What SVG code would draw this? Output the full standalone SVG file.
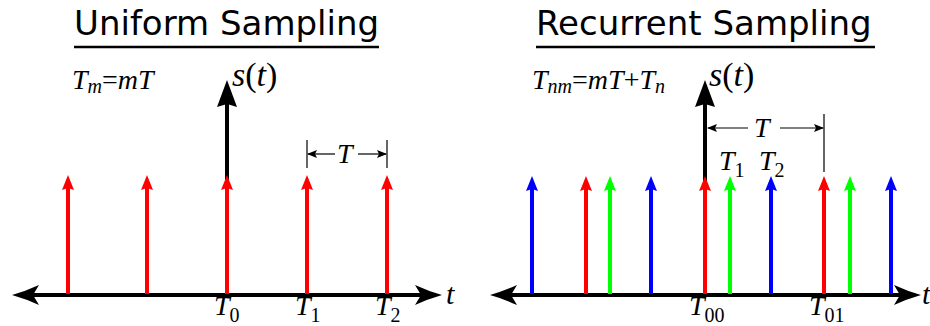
<svg xmlns="http://www.w3.org/2000/svg" width="930" height="326" viewBox="0 0 930 326">
<style>
.title{font-family:"DejaVu Sans",sans-serif;font-size:34px;fill:#000}
.math{font-family:"Liberation Serif","Times New Roman","DejaVu Serif",serif;font-style:italic;fill:#000}
.up{font-style:normal}
.ax{stroke:#000;stroke-width:4;fill:none}
.imp{stroke-width:4;fill:none}
.r{stroke:#ff0000}.g{stroke:#00ff00}.b{stroke:#0000ff}
.rf{fill:#ff0000}.gf{fill:#00ff00}.bf{fill:#0000ff}
.dim{stroke:#000;stroke-width:1.2;fill:none}
.ul{stroke:#000;stroke-width:2.5}
</style>
<defs>
<path id="ih" d="M0,0 L6,15 L0,13 L-6,15 Z"/>
<path id="sh" d="M0,0 L10,27 L0,24 L-10,27 Z"/>
<path id="axl" d="M0,0 Q14,-4 27,-10 L21,0 L27,10 Q14,4 0,0 Z"/>
<marker id="da" viewBox="0 0 10 8" refX="9" refY="4" markerWidth="10" markerHeight="8" markerUnits="userSpaceOnUse" orient="auto"><path d="M0,0 L10,4 L0,8 L2,4 Z" fill="#000"/></marker>
</defs>

<g id="left-title">
<text class="title" x="74" y="35">Uniform Sampling</text>
<line class="ul" x1="74" y1="47" x2="379" y2="47"/>
</g>
<g id="right-title">
<text class="title" x="536" y="35">Recurrent Sampling</text>
<line class="ul" x1="536" y1="47" x2="875" y2="47"/>
</g>

<g id="left-formula"><text class="math" x="72" y="89" font-size="28">T<tspan font-size="20" dy="4">m</tspan><tspan class="up" dy="-4">=</tspan>mT</text></g>
<g id="right-formula"><text class="math" x="532" y="89" font-size="28">T<tspan font-size="20" dy="4">nm</tspan><tspan class="up" dy="-4">=</tspan>mT<tspan class="up">+</tspan>T<tspan font-size="20" dy="4">n</tspan></text></g>

<g id="connectors">
<line class="ax" x1="30" y1="295" x2="425" y2="295"/>
<use href="#axl" transform="translate(12,295)"/>
<use href="#axl" transform="translate(442,295) scale(-1,1)"/>
<line class="ax" x1="227" y1="100" x2="227" y2="190" stroke-width="4.5"/>
<use href="#sh" transform="translate(227,80)"/>
<line class="ax" x1="508" y1="295" x2="905" y2="295"/>
<use href="#axl" transform="translate(490,295)"/>
<use href="#axl" transform="translate(921,295) scale(-1,1)"/>
<line class="ax" x1="705" y1="100" x2="705" y2="190" stroke-width="4.5"/>
<use href="#sh" transform="translate(705,80)"/>

<line class="dim" x1="307" y1="140" x2="307" y2="168"/>
<line class="dim" x1="387" y1="140" x2="387" y2="168"/>
<line class="dim" x1="335" y1="154" x2="308" y2="154" marker-end="url(#da)"/>
<line class="dim" x1="358" y1="154" x2="386" y2="154" marker-end="url(#da)"/>
<line class="dim" x1="824" y1="114" x2="824" y2="172"/>
<line class="dim" x1="748" y1="128" x2="708" y2="128" marker-end="url(#da)"/>
<line class="dim" x1="780" y1="128" x2="823" y2="128" marker-end="url(#da)"/>
</g>

<g id="left-impulses">
<g id="l1"><line class="imp r" x1="68" y1="294" x2="68" y2="186"/><use class="rf" href="#ih" x="68" y="175"/></g>
<g id="l2"><line class="imp r" x1="147" y1="294" x2="147" y2="186"/><use class="rf" href="#ih" x="147" y="175"/></g>
<g id="l3"><line class="imp r" x1="227" y1="294" x2="227" y2="186"/><use class="rf" href="#ih" x="227" y="175"/></g>
<g id="l4"><line class="imp r" x1="307" y1="294" x2="307" y2="186"/><use class="rf" href="#ih" x="307" y="175"/></g>
<g id="l5"><line class="imp r" x1="387" y1="294" x2="387" y2="186"/><use class="rf" href="#ih" x="387" y="175"/></g>
</g>

<g id="right-impulses">
<g id="r1"><line class="imp b" x1="532" y1="294" x2="532" y2="187"/><use class="bf" href="#ih" x="532" y="176"/></g>
<g id="r2"><line class="imp r" x1="586" y1="294" x2="586" y2="187"/><use class="rf" href="#ih" x="586" y="176"/></g>
<g id="r3"><line class="imp g" x1="610" y1="294" x2="610" y2="187"/><use class="gf" href="#ih" x="610" y="176"/></g>
<g id="r4"><line class="imp b" x1="651" y1="294" x2="651" y2="187"/><use class="bf" href="#ih" x="651" y="176"/></g>
<g id="r5"><line class="imp r" x1="705" y1="294" x2="705" y2="187"/><use class="rf" href="#ih" x="705" y="176"/></g>
<g id="r6"><line class="imp g" x1="730" y1="294" x2="730" y2="187"/><use class="gf" href="#ih" x="730" y="176"/></g>
<g id="r7"><line class="imp b" x1="771" y1="294" x2="771" y2="187"/><use class="bf" href="#ih" x="771" y="176"/></g>
<g id="r8"><line class="imp r" x1="824" y1="294" x2="824" y2="187"/><use class="rf" href="#ih" x="824" y="176"/></g>
<g id="r9"><line class="imp g" x1="850" y1="294" x2="850" y2="187"/><use class="gf" href="#ih" x="850" y="176"/></g>
<g id="r10"><line class="imp b" x1="891" y1="294" x2="891" y2="187"/><use class="bf" href="#ih" x="891" y="176"/></g>
</g>

<g id="labels">
<text class="math" x="232" y="86" font-size="34">s<tspan class="up">(</tspan>t<tspan class="up">)</tspan></text>
<text class="math" x="709" y="86" font-size="34">s<tspan class="up">(</tspan>t<tspan class="up">)</tspan></text>
<text class="math" x="337" y="163" font-size="28">T</text>
<text class="math" x="754" y="137" font-size="28">T</text>
<text class="math" x="719" y="170" font-size="28">T<tspan class="up" font-size="20" dy="7">1</tspan></text>
<text class="math" x="759" y="170" font-size="28">T<tspan class="up" font-size="20" dy="7">2</tspan></text>
<text class="math" x="446" y="304" font-size="30">t</text>
<text class="math" x="922" y="304" font-size="30">t</text>
<text class="math" x="214" y="315" font-size="28">T<tspan class="up" font-size="20" dy="7">0</tspan></text>
<text class="math" x="295" y="315" font-size="28">T<tspan class="up" font-size="20" dy="7">1</tspan></text>
<text class="math" x="375" y="315" font-size="28">T<tspan class="up" font-size="20" dy="7">2</tspan></text>
<text class="math" x="689" y="315" font-size="28">T<tspan class="up" font-size="20" dy="7">00</tspan></text>
<text class="math" x="809" y="315" font-size="28">T<tspan class="up" font-size="20" dy="7">01</tspan></text>
</g>
</svg>
